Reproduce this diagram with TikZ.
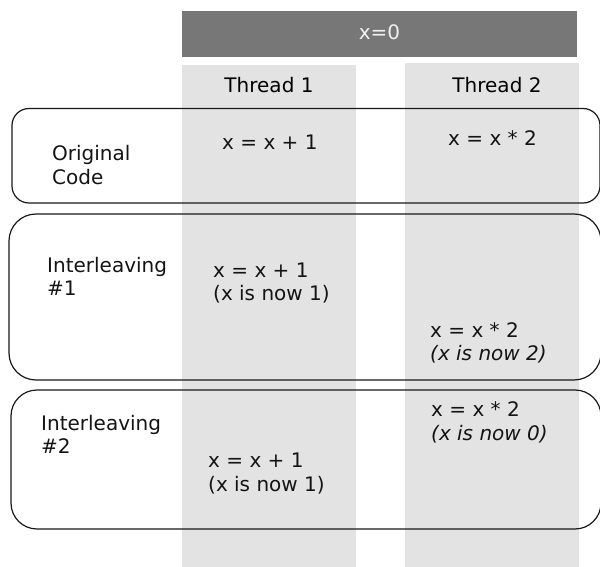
\documentclass[tikz,border=0pt]{standalone}
\usepackage{fontspec}
\setmainfont{DejaVu Sans}
\definecolor{barGray}{HTML}{777777}
\definecolor{colGray}{HTML}{E3E3E3}
\begin{document}
\begin{tikzpicture}[x=1pt,y=-1pt,
  lbl/.style={anchor=base west,inner sep=0pt,font=\fontsize{20}{23.5}\selectfont,text=black!92},
  hdr/.style={anchor=base,inner sep=0pt,font=\fontsize{20}{23.5}\selectfont},
  rowbox/.style={draw=black!90,line width=1.2pt}]
\useasboundingbox (0,0) rectangle (600,567);
\clip (0,0) rectangle (600,567);
% shared variable and thread columns
\fill[barGray] (182,11) rectangle (577,57);
\fill[colGray] (182,65) rectangle (356,567);
\fill[colGray] (405,63) rectangle (579,567);
\node[hdr,text=white!94!black] (xinit) at (379.5,40) {x=0};
\node[hdr] (th1) at (269,92.5) {Thread 1};
\node[hdr] (th2) at (497,92.5) {Thread 2};
% row outlines
\draw[rowbox,rounded corners=17pt] (12,108.5) rectangle (600,203);
\draw[rowbox,rounded corners=27pt] (9,214) rectangle (601,380);
\draw[rowbox,rounded corners=26pt] (11,390) rectangle (601,529);
% original code
\node[lbl] (oc1) at (52,160.5) {Original};
\node[lbl] (oc2) at (52,185) {Code};
\node[lbl] (oa) at (222,150) {x = x + 1};
\node[lbl] (ob) at (448,146) {x = x * 2};
% interleaving 1
\node[lbl] (ia1) at (47,272) {Interleaving};
\node[lbl] (ia2) at (47,295.5) {\#1};
\node[lbl] (iaa1) at (213,277) {x = x + 1};
\node[lbl] (iaa2) at (213,300.5) {(x is now 1)};
\node[lbl] (iab1) at (430,337) {x = x * 2};
\node[lbl] (iab2) at (430,360.5) {\itshape (x is now 2)};
% interleaving 2
\node[lbl] (ib1) at (41,430) {Interleaving};
\node[lbl] (ib2) at (41,453.5) {\#2};
\node[lbl] (ibb1) at (431,416.5) {x = x * 2};
\node[lbl] (ibb2) at (431,440) {\itshape (x is now 0)};
\node[lbl] (iba1) at (208,467.5) {x = x + 1};
\node[lbl] (iba2) at (208,491.5) {(x is now 1)};
\end{tikzpicture}
\end{document}
